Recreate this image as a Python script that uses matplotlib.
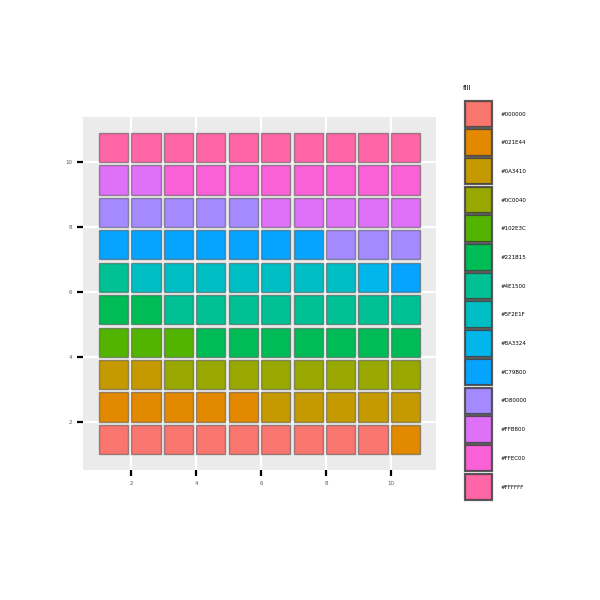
import numpy as np
import matplotlib
matplotlib.use('Agg')
import matplotlib.pyplot as plt

# fill levels (legend order) and how many tiles each one gets
levels = ['#000000', '#021E44', '#0A3410', '#0C0040', '#102E3C', '#221B15',
          '#4E1500', '#5F2E1F', '#8A3324', '#C79B00', '#D80000', '#FFB800',
          '#FFEC00', '#FFFFFF']
counts = [9, 6, 7, 8, 3, 9, 9, 7, 1, 8, 8, 7, 8, 10]

x_ticks = [2, 4, 6, 8, 10]
y_ticks = [2, 4, 6, 8, 10]


def hue_pal(n, c=100, l=65):
    """ggplot-style hue palette (polar Luv -> sRGB)"""
    hues = np.linspace(15, 375, n + 1)[:-1]
    xn, yn, zn = 95.047, 100.0, 108.883
    un = 4 * xn / (xn + 15 * yn + 3 * zn)
    vn = 9 * yn / (xn + 15 * yn + 3 * zn)
    m = np.array([[3.240479, -1.537150, -0.498535],
                  [-0.969256, 1.875992, 0.041556],
                  [0.055648, -0.204043, 1.057311]])
    out = []
    for h in np.deg2rad(hues):
        u, v = c * np.cos(h), c * np.sin(h)
        Y = yn * ((l + 16) / 116) ** 3
        up = u / (13 * l) + un
        vp = v / (13 * l) + vn
        X = Y * 9 * up / (4 * vp)
        Z = Y * (12 - 3 * up - 20 * vp) / (4 * vp)
        rgb = m @ (np.array([X, Y, Z]) / 100)
        rgb = np.where(rgb <= 0.0031308, 12.92 * rgb,
                       1.055 * np.abs(rgb) ** (1 / 2.4) - 0.055)
        out.append(tuple(np.clip(rgb, 0, 1)))
    return out


cols = hue_pal(len(levels))

# tiles filled row by row, bottom to top
fill_idx = np.repeat(np.arange(len(levels)), counts)
pos = np.arange(len(fill_idx))
tile_x = pos % 10 + 1
tile_y = pos // 10 + 1

W, H = 600, 600
fig = plt.figure(figsize=(6, 6), dpi=100)
ax = fig.add_axes([83 / W, 1 - 470 / H, 353 / W, 353 / H])
ax.set_facecolor('#EBEBEB')
for s in ax.spines.values():
    s.set_visible(False)

ax.bar(tile_x, 0.9, width=0.9, bottom=tile_y, align='edge',
       color=[cols[i] for i in fill_idx],
       edgecolor=(0.3, 0.3, 0.3, 0.55), linewidth=1.0, zorder=3)

ax.set_xlim(0.505, 11.395)
ax.set_ylim(0.505, 11.395)
ax.set_xticks(x_ticks)
ax.set_yticks(y_ticks)
ax.grid(True, color='white', linewidth=1.6, zorder=0)
ax.set_axisbelow(True)
ax.tick_params(length=4, width=1.6, color='black', labelsize=4,
               labelcolor='#5A5A5A', pad=4)

# legend, drawn in pixel coordinates
lg = fig.add_axes([0, 0, 1, 1], facecolor='none')
lg.set_xlim(0, W)
lg.set_ylim(H, 0)
lg.axis('off')
lg.text(463, 88, 'fill', fontsize=5, color='black', va='center', ha='left')
pitch = 28.7
for k, name in enumerate(levels):
    top = 100 + k * pitch
    lg.add_patch(plt.Rectangle((464.5, top + 0.5), 27, 26.5, facecolor=cols[k],
                               edgecolor=(0.25, 0.25, 0.25, 0.85), linewidth=1.6))
    lg.text(501, top + 14, name, fontsize=4, color='black',
            va='center', ha='left')

fig.savefig('out.png', dpi=100)
